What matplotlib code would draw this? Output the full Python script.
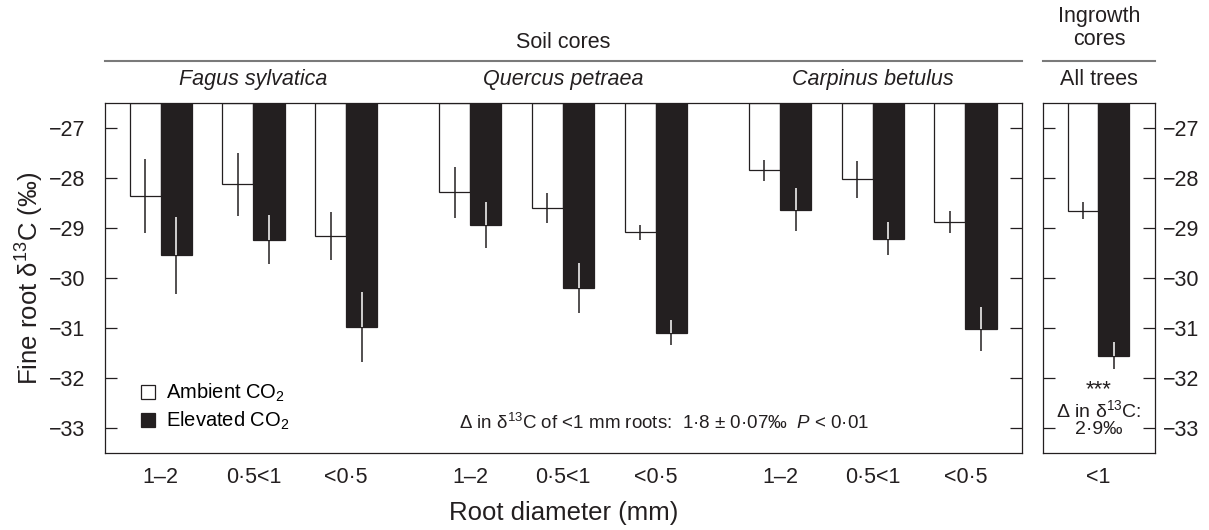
import matplotlib
matplotlib.use("Agg")
import matplotlib.pyplot as plt
import matplotlib.transforms as mtransforms
from matplotlib.patches import Patch
import numpy as np

plt.rcParams['font.family'] = ['Liberation Sans', 'DejaVu Sans']
plt.rcParams['mathtext.fontset'] = 'custom'
plt.rcParams['mathtext.rm'] = 'Liberation Sans'
plt.rcParams['mathtext.it'] = 'Liberation Sans:italic'
plt.rcParams['mathtext.bf'] = 'Liberation Sans:bold'

# ---- data ----
species = ['Fagus sylvatica', 'Quercus petraea', 'Carpinus betulus']
diameters = ['1–2', '0·5<1', '<0·5']
ambient = [-28.36, -28.12, -29.15, -28.28, -28.60, -29.08, -27.84, -28.02, -28.87]
ambient_se = [0.745, 0.63, 0.48, 0.51, 0.30, 0.15, 0.21, 0.37, 0.22]
elevated = [-29.54, -29.23, -30.97, -28.94, -30.20, -31.09, -28.63, -29.21, -31.02]
elevated_se = [0.77, 0.49, 0.70, 0.455, 0.505, 0.255, 0.43, 0.335, 0.445]
ingrowth_label = ['<1']
ingrowth_ambient = [-28.65]
ingrowth_ambient_se = [0.17]
ingrowth_elevated = [-31.55]
ingrowth_elevated_se = [0.265]
yticks = [-27, -28, -29, -30, -31, -32, -33]

DARK = '#231f20'
TOP = -26.5
BOT = -33.5
W = 0.336
TICK_FS = 15.5
HEAD_FS = 15.5

fig = plt.figure(figsize=(12.09, 5.30), dpi=100)
W_PX, H_PX = 1209, 530
def rect(l, r, b, t):
    return [l / W_PX, 1 - b / H_PX, (r - l) / W_PX, (b - t) / H_PX]

ax = fig.add_axes(rect(105, 1022, 453.3, 103))
ax2 = fig.add_axes(rect(1043, 1155, 453.3, 103))

gap = 1.34
xpos = []
for s in range(len(species)):
    for d in range(len(diameters)):
        xpos.append(s * (2 + gap) + d)
xpos = np.array(xpos)


def draw_bars(a, x, amb, amb_se, ele, ele_se, w):
    amb = np.array(amb); ele = np.array(ele)
    amb_se = np.array(amb_se); ele_se = np.array(ele_se)
    xa = x - w / 2
    xe = x + w / 2
    a.bar(xa, amb - TOP, bottom=TOP, width=w, facecolor='white',
          edgecolor=DARK, linewidth=0.9, zorder=2)
    a.bar(xe, ele - TOP, bottom=TOP, width=w, facecolor=DARK,
          edgecolor=DARK, linewidth=0.9, zorder=2)
    a.vlines(xa, amb - amb_se, amb + amb_se, color=DARK, linewidth=1.1, zorder=3)
    a.vlines(xe, ele - ele_se, ele, color=DARK, linewidth=1.1, zorder=3)
    a.vlines(xe, ele, np.minimum(ele + ele_se, TOP), color='white', linewidth=1.1, zorder=3)


draw_bars(ax, xpos, ambient, ambient_se, elevated, elevated_se, W)
draw_bars(ax2, np.array([0.0]), ingrowth_ambient, ingrowth_ambient_se,
          ingrowth_elevated, ingrowth_elevated_se, 0.33)

for a in (ax, ax2):
    a.set_ylim(BOT, TOP)
    a.set_yticks(yticks)
    for sp in a.spines.values():
        sp.set_color(DARK)
        sp.set_linewidth(0.9)
    a.tick_params(axis='x', length=0, labelsize=TICK_FS, pad=10, colors=DARK)

ax.set_xlim(-0.601, 9.291)
ax.set_xticks(xpos)
ax.set_xticklabels(diameters * len(species))
ax.tick_params(axis='y', direction='in', length=8.5, width=0.9, left=True, right=True,
               labelleft=True, labelsize=TICK_FS, pad=14, colors=DARK)

ax2.set_xlim(-0.597, 0.612)
ax2.set_xticks([0.0])
ax2.set_xticklabels(ingrowth_label)
ax2.tick_params(axis='y', direction='in', length=8.5, width=0.9, left=True, right=True,
                labelleft=False, labelright=True, labelsize=TICK_FS, pad=6, colors=DARK)

ax.set_ylabel('Fine root δ$^{13}$C (‰)', fontsize=18.5, labelpad=2, color=DARK)
ax.set_xlabel('Root diameter (mm)', fontsize=18.5, labelpad=9, color=DARK)

# headers
ax.plot([0, 1], [1.12, 1.12], transform=ax.transAxes, color='#7a7a7a',
        linewidth=1.5, clip_on=False)
ax2.plot([0, 1], [1.12, 1.12], transform=ax2.transAxes, color='#7a7a7a',
         linewidth=1.5, clip_on=False)
ax.text(0.5, 1.174, 'Soil cores', transform=ax.transAxes, ha='center', va='center',
        fontsize=HEAD_FS, color=DARK)
blend = mtransforms.blended_transform_factory(ax.transData, ax.transAxes)
for s, name in enumerate(species):
    ax.text(xpos[s * 3 + 1], 1.066, name, transform=blend, ha='center', va='center',
            fontsize=HEAD_FS, style='italic', color=DARK)
ax2.text(0.5, 1.066, 'All trees', transform=ax2.transAxes, ha='center', va='center',
         fontsize=HEAD_FS, color=DARK)
ax2.text(0.5, 1.18, 'cores', transform=ax2.transAxes, ha='center', va='center',
         fontsize=HEAD_FS, color=DARK)
ax2.text(0.5, 1.248, 'Ingrowth', transform=ax2.transAxes, ha='center', va='center',
         fontsize=HEAD_FS, color=DARK)

# annotations
ax.text(0.61, 0.0865, 'Δ in δ$^{13}$C of <1 mm roots:  1·8 ± 0·07‰  $P$ < 0·01',
        transform=ax.transAxes, ha='center', va='center', fontsize=13.5, color=DARK)
ax2.text(0.5, 0.182, '***', transform=ax2.transAxes, ha='center', va='center',
         fontsize=16, color=DARK)
ax2.text(0.5, 0.124, 'Δ in δ$^{13}$C:', transform=ax2.transAxes, ha='center', va='center',
         fontsize=14, color=DARK)
ax2.text(0.5, 0.067, '2·9‰', transform=ax2.transAxes, ha='center', va='center',
         fontsize=14, color=DARK)

handles = [Patch(facecolor='white', edgecolor=DARK, linewidth=0.9),
           Patch(facecolor=DARK, edgecolor=DARK, linewidth=0.9)]
ax.legend(handles, ['Ambient CO$_2$', 'Elevated CO$_2$'], loc='lower left',
          bbox_to_anchor=(0.039, 0.06), frameon=False, fontsize=14.5,
          handlelength=0.7, handleheight=0.7, handletextpad=0.55,
          labelspacing=0.3, borderpad=0, borderaxespad=0)

fig.savefig('out.png', dpi=100)
